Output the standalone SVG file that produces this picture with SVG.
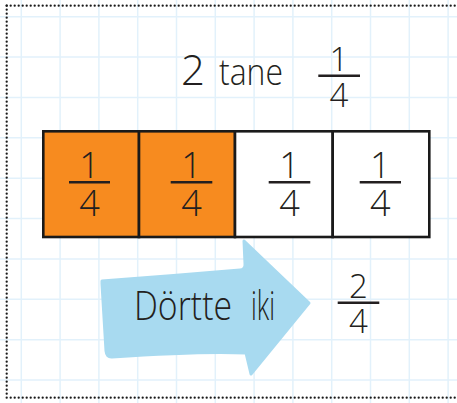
<svg xmlns="http://www.w3.org/2000/svg" width="457" height="403" viewBox="0 0 457 403">
<defs>
<style>
.grid line{stroke:#e2f1fb;stroke-width:1.5}
.dots{fill:none;stroke:#1a1a1a;stroke-width:2.3;stroke-linecap:round;stroke-dasharray:0 4}
.cell{stroke:#1a1a1a;stroke-width:2.6}
.orange{fill:#f78b1f}
.white{fill:#ffffff}
.t{font-family:"Open Sans","Liberation Sans",sans-serif;font-weight:300;fill:#231f20}
.num{font-size:36px;text-anchor:middle}
.num2{font-size:33px;text-anchor:middle}
.bar{stroke:#231f20;stroke-width:2.4}
</style>
</defs>
<rect x="0" y="0" width="457" height="403" fill="#ffffff"/>
<g class="grid">
<line x1="21.3" y1="0" x2="21.3" y2="403"/>
<line x1="60.1" y1="0" x2="60.1" y2="403"/>
<line x1="98.9" y1="0" x2="98.9" y2="403"/>
<line x1="137.7" y1="0" x2="137.7" y2="403"/>
<line x1="176.5" y1="0" x2="176.5" y2="403"/>
<line x1="215.3" y1="0" x2="215.3" y2="403"/>
<line x1="254.1" y1="0" x2="254.1" y2="403"/>
<line x1="292.9" y1="0" x2="292.9" y2="403"/>
<line x1="331.7" y1="0" x2="331.7" y2="403"/>
<line x1="370.5" y1="0" x2="370.5" y2="403"/>
<line x1="409.3" y1="0" x2="409.3" y2="403"/>
<line x1="448.1" y1="0" x2="448.1" y2="403"/>
<line x1="0" y1="16.7" x2="457" y2="16.7"/>
<line x1="0" y1="57.1" x2="457" y2="57.1"/>
<line x1="0" y1="97.4" x2="457" y2="97.4"/>
<line x1="0" y1="137.8" x2="457" y2="137.8"/>
<line x1="0" y1="178.2" x2="457" y2="178.2"/>
<line x1="0" y1="218.6" x2="457" y2="218.6"/>
<line x1="0" y1="258.9" x2="457" y2="258.9"/>
<line x1="0" y1="299.3" x2="457" y2="299.3"/>
<line x1="0" y1="339.7" x2="457" y2="339.7"/>
<line x1="0" y1="380" x2="457" y2="380"/>
</g>
<g class="dots">
<path d="M6.7,5.7 H457"/>
<path d="M6.7,5.7 V397.7"/>
<path d="M6.7,397.7 H457"/>
</g>
<g id="title">
<text class="t" y="85" font-size="42"><tspan x="181">2</tspan><tspan x="219" font-size="37" textLength="64" lengthAdjust="spacingAndGlyphs">tane</tspan></text>
<text class="t num2" x="339" y="71">1</text>
<line class="bar" x1="318.3" y1="75.7" x2="360" y2="75.7"/>
<text class="t num2" x="339" y="107">4</text>
</g>
<g id="cell1">
<rect class="cell orange" x="43.3" y="131.3" width="95.7" height="105.7"/>
<text class="t num" x="89.5" y="178">1</text>
<line class="bar" x1="69" y1="182.3" x2="110" y2="182.3"/>
<text class="t num" x="89.5" y="216.3">4</text>
</g>
<g id="cell2">
<rect class="cell orange" x="139" y="131.3" width="96" height="105.7"/>
<text class="t num" x="191.5" y="178">1</text>
<line class="bar" x1="170.7" y1="182.3" x2="212.3" y2="182.3"/>
<text class="t num" x="191.5" y="216.3">4</text>
</g>
<g id="cell3">
<rect class="cell white" x="235" y="131.3" width="97.7" height="105.7"/>
<text class="t num" x="289.5" y="178">1</text>
<line class="bar" x1="268.7" y1="182.3" x2="310.3" y2="182.3"/>
<text class="t num" x="289.5" y="216.3">4</text>
</g>
<g id="cell4">
<rect class="cell white" x="332.7" y="131.3" width="96.6" height="105.7"/>
<text class="t num" x="380.3" y="178">1</text>
<line class="bar" x1="359.7" y1="182.3" x2="401" y2="182.3"/>
<text class="t num" x="380.3" y="216.3">4</text>
</g>
<g id="arrow">
<path d="M102,281 Q170,276 240,270 Q245.5,269.5 245,264 L244,241 L309,303 L251,374 L246,353 Q200,351 112,357 Q106.5,357.5 106,351 L102,284 Z" fill="#a8daf0" stroke="#a8daf0" stroke-width="3" stroke-linejoin="round"/>
<text class="t" y="320" font-size="40"><tspan x="134" textLength="98" lengthAdjust="spacingAndGlyphs">Dörtte</tspan><tspan x="251" textLength="24" lengthAdjust="spacingAndGlyphs">iki</tspan></text>
</g>
<g id="result">
<text class="t num2" x="358.5" y="297.7">2</text>
<line class="bar" x1="337.7" y1="302.7" x2="379.3" y2="302.7"/>
<text class="t num2" x="358.5" y="333">4</text>
</g>
<g id="connectors"/>
</svg>
